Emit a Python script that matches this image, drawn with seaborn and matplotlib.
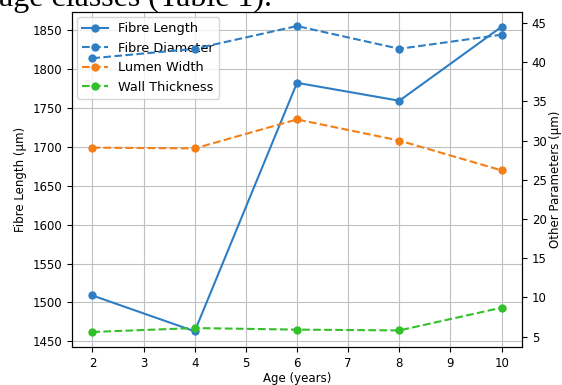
import numpy as np
import pandas as pd
import seaborn as sns
import matplotlib
matplotlib.use("Agg")
import matplotlib.pyplot as plt

# values
age = [2, 4, 6, 8, 10]
fibre_length = [1509, 1463, 1782, 1759, 1854]
fibre_diameter = [40.5, 41.7, 44.6, 41.7, 43.5]
lumen_width = [29.1, 29.0, 32.7, 30.0, 26.2]
wall_thickness = [5.6, 6.1, 5.9, 5.8, 8.7]

plt.rcParams['font.family'] = ['DejaVu Sans']
plt.rcParams['font.size'] = 8.5

fig = plt.figure(figsize=(5.62, 3.85), dpi=100)
ax1 = fig.add_axes([0.128, 0.099, 0.801, 0.870])
ax2 = ax1.twinx()

blue = '#2f7ec4'
orange = '#f57f17'
green = '#33c02b'

sns.lineplot(x=age, y=fibre_length, ax=ax1, color=blue, marker='o', markersize=6,
             markeredgewidth=0, linewidth=1.5, label='Fibre Length', legend=False)
sns.lineplot(x=age, y=fibre_diameter, ax=ax2, color=blue, marker='o', markersize=6,
             markeredgewidth=0, linewidth=1.5, linestyle='--', label='Fibre Diameter', legend=False)
sns.lineplot(x=age, y=lumen_width, ax=ax2, color=orange, marker='o', markersize=6,
             markeredgewidth=0, linewidth=1.5, linestyle='--', label='Lumen Width', legend=False)
sns.lineplot(x=age, y=wall_thickness, ax=ax2, color=green, marker='o', markersize=6,
             markeredgewidth=0, linewidth=1.5, linestyle='--', label='Wall Thickness', legend=False)

ax1.set_xlim(1.6, 10.4)
ax1.set_ylim(1443, 1873)
ax2.set_ylim(3.7, 46.4)
ax1.set_xticks(range(2, 11))
ax1.set_yticks(range(1450, 1851, 50))
ax2.set_yticks(range(5, 46, 5))
ax1.grid(True, color='#c0c0c0', linewidth=0.8)
ax1.set_axisbelow(True)

ax1.set_xlabel('Age (years)', labelpad=2)
ax1.set_ylabel('Fibre Length (µm)')
ax2.set_ylabel('Other Parameters (µm)', labelpad=1.5)

h1, l1 = ax1.get_legend_handles_labels()
h2, l2 = ax2.get_legend_handles_labels()
ax1.legend(h1 + h2, l1 + l2, loc='upper left', fontsize=9.3, borderaxespad=0.4)

fig.text(-0.002, 0.985, 'age classes (Table 1).', family='Liberation Serif', fontsize=23,
         va='baseline', ha='left')

fig.savefig('out.png', dpi=100)
